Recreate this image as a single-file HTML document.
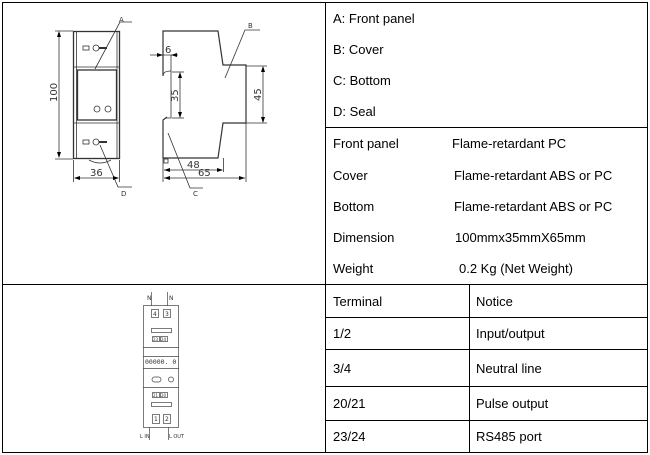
<!DOCTYPE html>
<html><head><meta charset="utf-8"><style>
html,body{margin:0;padding:0;background:#fff;}
body{width:650px;height:455px;position:relative;overflow:hidden;font-family:"Liberation Sans",Arial,sans-serif;font-size:13px;color:#000;}
.t{position:absolute;white-space:nowrap;line-height:15px;}
</style></head><body>
<svg width="650" height="455" style="position:absolute;left:0;top:0" xmlns="http://www.w3.org/2000/svg">
<g stroke="#000" fill="none" stroke-width="1">
<rect x="2.5" y="2.5" width="645" height="450"/>
<line x1="325.5" y1="2" x2="325.5" y2="453"/>
<line x1="2" y1="284.5" x2="648" y2="284.5"/>
<line x1="325" y1="127.5" x2="648" y2="127.5"/>
<line x1="469.5" y1="285" x2="469.5" y2="453"/>
<line x1="325" y1="317.5" x2="648" y2="317.5"/>
<line x1="325" y1="349.5" x2="648" y2="349.5"/>
<line x1="325" y1="386.5" x2="648" y2="386.5"/>
<line x1="325" y1="420.5" x2="648" y2="420.5"/>
</g>
<g stroke="#333" fill="none" stroke-width="0.8">
<!-- front view -->
<rect x="73.5" y="31.5" width="46" height="127" stroke-width="1.3"/>
<line x1="76.5" y1="31" x2="76.5" y2="158"/>
<line x1="117" y1="31" x2="117" y2="158"/>
<line x1="74" y1="67" x2="119" y2="67"/>
<rect x="77.5" y="70" width="39" height="50" stroke-width="1.3"/>
<line x1="74" y1="123" x2="119" y2="123"/>
<rect x="83" y="46" width="6" height="4"/><circle cx="96" cy="48" r="3"/><line x1="99" y1="48" x2="107" y2="48" stroke-width="2"/>
<circle cx="97" cy="109" r="3"/><circle cx="108" cy="109" r="3"/>
<rect x="83" y="140" width="6" height="4"/><circle cx="96" cy="142" r="3"/><line x1="99" y1="142" x2="107" y2="142" stroke-width="2"/>
<path d="M89 160 Q100 166 111 160"/>
<line x1="55" y1="31" x2="73" y2="31"/><line x1="55" y1="159" x2="73" y2="159"/>
<line x1="59" y1="33" x2="59" y2="157"/>
<line x1="73.5" y1="160" x2="73.5" y2="182"/><line x1="119.5" y1="160" x2="119.5" y2="182"/>
<line x1="75" y1="178" x2="118" y2="178"/>
<polyline points="95,69 120,22 132,22"/>
<polyline points="100,145 118,187 132,187"/>
<!-- side view -->
<path d="M163 76 L163 31 L218 31 L223 65 L246 65 L246 123 L223 123 L218 158 L163 158 L163 120 L167 117" stroke-width="1.2"/>
<path d="M163 76 Q163 71 171 71 L171 118 L165 118"/>
<line x1="171" y1="55" x2="171" y2="71"/>
<line x1="150" y1="55" x2="178" y2="55"/>
<line x1="172" y1="72" x2="184" y2="72"/><line x1="172" y1="118" x2="184" y2="118"/>
<line x1="180" y1="73" x2="180" y2="117"/>
<line x1="246" y1="66" x2="267" y2="66"/><line x1="246" y1="123" x2="267" y2="123"/>
<line x1="263" y1="67" x2="263" y2="122"/>
<line x1="163" y1="158" x2="163" y2="182"/><line x1="223.5" y1="158" x2="223.5" y2="172"/><line x1="246" y1="123" x2="246" y2="182"/>
<line x1="164" y1="170" x2="222" y2="170"/>
<line x1="164" y1="178" x2="245" y2="178"/>
<rect x="164" y="159" width="4" height="4"/>
<polyline points="225,78 245,30 260,30"/>
<polyline points="168,133 190,188 203,188"/>
</g>
<g fill="#000">
<path d="M59 31 l-2 6 h4z"/><path d="M59 158 l-2 -6 h4z"/>
<path d="M74 178 l6 -2 v4z"/><path d="M119 178 l-6 -2 v4z"/>
<path d="M163 55 l-6 -2 v4z"/><path d="M171 55 l6 -2 v4z"/>
<path d="M180 72 l-2 6 h4z"/><path d="M180 118 l-2 -6 h4z"/>
<path d="M263 66 l-2 6 h4z"/><path d="M263 123 l-2 -6 h4z"/>
<path d="M164 170 l6 -2 v4z"/><path d="M223 170 l-6 -2 v4z"/>
<path d="M164 178 l6 -2 v4z"/><path d="M245 178 l-6 -2 v4z"/>
</g>
<g font-family="DejaVu Sans, sans-serif" fill="#333">
<text x="119" y="22" font-size="7">A</text>
<text x="248" y="28" font-size="7">B</text>
<text x="193" y="196" font-size="7">C</text>
<text x="121" y="196" font-size="7">D</text>
<text x="90" y="176" font-size="10">36</text>
<text x="187" y="168" font-size="10">48</text>
<text x="198" y="176" font-size="10">65</text>
<text x="165" y="53" font-size="10">6</text>
<text transform="translate(57,102) rotate(-90)" font-size="10">100</text>
<text transform="translate(178,102) rotate(-90)" font-size="10">35</text>
<text transform="translate(261,101) rotate(-90)" font-size="10">45</text>
</g>
<!-- wiring diagram -->
<g stroke="#444" fill="none" stroke-width="0.7">
<rect x="143.5" y="305.5" width="35" height="122"/>
<line x1="151.5" y1="292" x2="151.5" y2="306"/><line x1="167.5" y1="292" x2="167.5" y2="306"/>
<rect x="151.5" y="309.5" width="7" height="8"/><rect x="163.5" y="309.5" width="7" height="8"/>
<rect x="151.5" y="328.5" width="20" height="4"/>
<rect x="152.5" y="336.5" width="7" height="5"/><rect x="160.5" y="336.5" width="7" height="5"/>
<line x1="143" y1="347.5" x2="179" y2="347.5"/><line x1="143" y1="356.5" x2="179" y2="356.5"/>
<line x1="143" y1="368.5" x2="179" y2="368.5"/><line x1="143" y1="387.5" x2="179" y2="387.5"/>
<rect x="152" y="377" width="9" height="5" rx="2.5"/><circle cx="171" cy="379.5" r="2.5"/>
<rect x="152.5" y="392.5" width="7" height="5"/><rect x="160.5" y="392.5" width="7" height="5"/>
<rect x="151.5" y="402.5" width="20" height="4"/>
<rect x="152.5" y="414.5" width="7" height="9"/><rect x="163.5" y="414.5" width="7" height="9"/>
<line x1="149.5" y1="427" x2="149.5" y2="440"/><line x1="168.5" y1="427" x2="168.5" y2="440"/>
</g>
<g font-family="DejaVu Sans, sans-serif" fill="#333" font-size="6">
<text x="147" y="300">N</text><text x="169" y="300">N</text>
<text x="153" y="316">4</text><text x="165" y="316">3</text>
<text x="153" y="322" font-size="3"></text>
<text x="153" y="341" font-size="4">23</text><text x="161" y="341" font-size="4">24</text>
<text x="145" y="364" font-family="DejaVu Sans Mono, monospace" font-size="6.5">00000. 0</text>
<text x="153" y="397" font-size="4">21</text><text x="161" y="397" font-size="4">20</text>
<text x="154" y="421">1</text><text x="165" y="421">2</text>
<text x="140" y="438" font-size="5">L IN</text><text x="169" y="438" font-size="5">L OUT</text>
</g>
</svg>
<div class="t" style="left:333px;top:11px">A: Front panel</div>
<div class="t" style="left:333px;top:42px">B: Cover</div>
<div class="t" style="left:333px;top:73px">C: Bottom</div>
<div class="t" style="left:333px;top:104px">D: Seal</div>
<div class="t" style="left:333px;top:136px">Front panel</div><div class="t" style="left:452px;top:136px">Flame-retardant PC</div>
<div class="t" style="left:333px;top:168px">Cover</div><div class="t" style="left:454px;top:168px">Flame-retardant ABS or PC</div>
<div class="t" style="left:333px;top:199px">Bottom</div><div class="t" style="left:454px;top:199px">Flame-retardant ABS or PC</div>
<div class="t" style="left:333px;top:230px">Dimension</div><div class="t" style="left:455px;top:230px">100mmx35mmX65mm</div>
<div class="t" style="left:333px;top:261px">Weight</div><div class="t" style="left:459px;top:261px">0.2 Kg (Net Weight)</div>
<div class="t" style="left:333px;top:294px">Terminal</div><div class="t" style="left:476px;top:294px">Notice</div>
<div class="t" style="left:333px;top:326px">1/2</div><div class="t" style="left:476px;top:326px">Input/output</div>
<div class="t" style="left:333px;top:361px">3/4</div><div class="t" style="left:476px;top:361px">Neutral line</div>
<div class="t" style="left:333px;top:396px">20/21</div><div class="t" style="left:476px;top:396px">Pulse output</div>
<div class="t" style="left:333px;top:429px">23/24</div><div class="t" style="left:476px;top:429px">RS485 port</div>
</body></html>
